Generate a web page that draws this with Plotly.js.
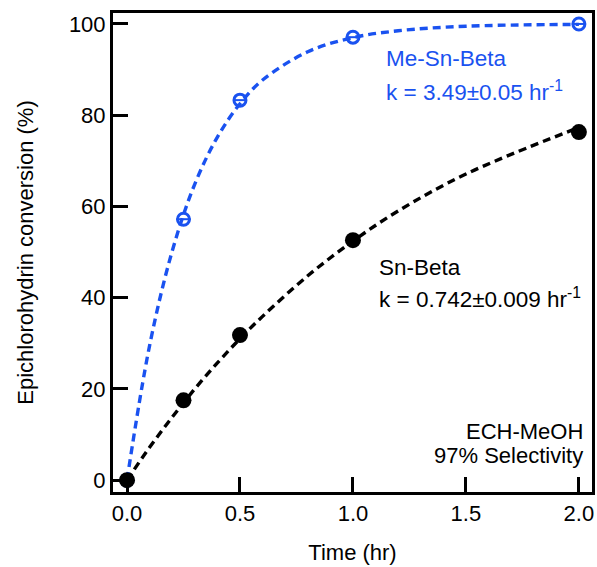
<!DOCTYPE html>
<html><head><meta charset="utf-8">
<script src="https://cdn.plot.ly/plotly-3.0.1.min.js"></script>
<style>body{margin:0;background:#fff}#c{width:597px;height:567px}</style>
</head><body><div id="c"></div>
<script>
// Measured data
const time = [0, 0.25, 0.5, 1.0, 2.0];
const meSnBeta = [0, 57.2, 83.3, 97.1, 100.0];
const snBeta = [0, 17.5, 31.8, 52.6, 76.3];
// Fitted curves
const fitTime = [0, 0.1, 0.2, 0.3, 0.4, 0.5, 0.6, 0.8, 1.0, 1.2, 1.5, 2.0];
const meSnBetaFit = [0, 29.5, 50.2, 64.9, 75.2, 82.5, 87.7, 93.9, 97.0, 98.5, 99.5, 99.9];
const snBetaFit = [0, 7.2, 13.8, 20.0, 25.7, 31.0, 35.9, 44.8, 52.4, 59.0, 67.1, 77.3];
const xTicks = [0, 0.5, 1.0, 1.5, 2.0];
const xTickText = ['0.0', '0.5', '1.0', '1.5', '2.0'];
const yTicks = [0, 20, 40, 60, 80, 100];

const blue = '#1a52f0';
const font = 'Liberation Sans, Arial, sans-serif';

const traces = [
  {x: fitTime, y: meSnBetaFit, mode: 'lines', line: {color: blue, width: 3.4, dash: '8px,5px', shape: 'spline'}, hoverinfo: 'skip'},
  {x: fitTime, y: snBetaFit, mode: 'lines', line: {color: '#000', width: 3.4, dash: '8px,5px', shape: 'spline'}, hoverinfo: 'skip'},
  {x: time, y: meSnBeta, mode: 'markers', marker: {symbol: 'circle-open', size: 12, color: blue, line: {width: 3, color: blue}}},
  {x: time, y: meSnBeta, mode: 'markers', marker: {symbol: 'line-ew-open', size: 10, color: blue, line: {width: 2, color: blue}}},
  {x: time, y: snBeta, mode: 'markers', marker: {symbol: 'circle', size: 16, color: '#000'}}
];

const axisCommon = {
  showgrid: false, zeroline: false, showline: true, linecolor: '#000', linewidth: 3,
  mirror: true, ticks: 'inside', ticklen: 15, tickwidth: 3, tickcolor: '#000',
  tickfont: {family: font, size: 22, color: '#000'}
};

const layout = {
  width: 597, height: 567,
  margin: {l: 113, r: 5, t: 13, b: 75},
  paper_bgcolor: '#fff', plot_bgcolor: '#fff',
  showlegend: false,
  xaxis: Object.assign({}, axisCommon, {
    range: [-0.062, 2.058], tickvals: xTicks, ticktext: xTickText,
    title: {text: 'Time (hr)', font: {family: font, size: 22, color: '#000'}, standoff: 20}
  }),
  yaxis: Object.assign({}, axisCommon, {
    range: [-2.6, 102.4], tickvals: yTicks,
    title: {text: 'Epichlorohydrin conversion (%)', font: {family: font, size: 22, color: '#000'}, standoff: 30}
  }),
  annotations: [
    {x: 0.566, y: 0.905, xref: 'paper', yref: 'paper', xanchor: 'left', yanchor: 'middle', showarrow: false, align: 'left',
     text: 'Me-Sn-Beta', font: {family: font, size: 22.5, color: blue}},
    {x: 0.566, y: 0.838, xref: 'paper', yref: 'paper', xanchor: 'left', yanchor: 'middle', showarrow: false, align: 'left',
     text: 'k = 3.49±0.05 hr<sup>-1</sup>', font: {family: font, size: 22.5, color: blue}},
    {x: 0.551, y: 0.468, xref: 'paper', yref: 'paper', xanchor: 'left', yanchor: 'middle', showarrow: false, align: 'left',
     text: 'Sn-Beta', font: {family: font, size: 22.5, color: '#000'}},
    {x: 0.551, y: 0.404, xref: 'paper', yref: 'paper', xanchor: 'left', yanchor: 'middle', showarrow: false, align: 'left',
     text: 'k = 0.742±0.009 hr<sup>-1</sup>', font: {family: font, size: 22.5, color: '#000'}},
    {x: 0.985, y: 0.127, xref: 'paper', yref: 'paper', xanchor: 'right', yanchor: 'middle', showarrow: false, align: 'left',
     text: 'ECH-MeOH', font: {family: font, size: 22, color: '#000'}},
    {x: 0.985, y: 0.077, xref: 'paper', yref: 'paper', xanchor: 'right', yanchor: 'middle', showarrow: false, align: 'left',
     text: '97% Selectivity', font: {family: font, size: 22, color: '#000'}}
  ]
};

Plotly.newPlot('c', traces, layout, {displayModeBar: false, staticPlot: true});
</script>
</body></html>
